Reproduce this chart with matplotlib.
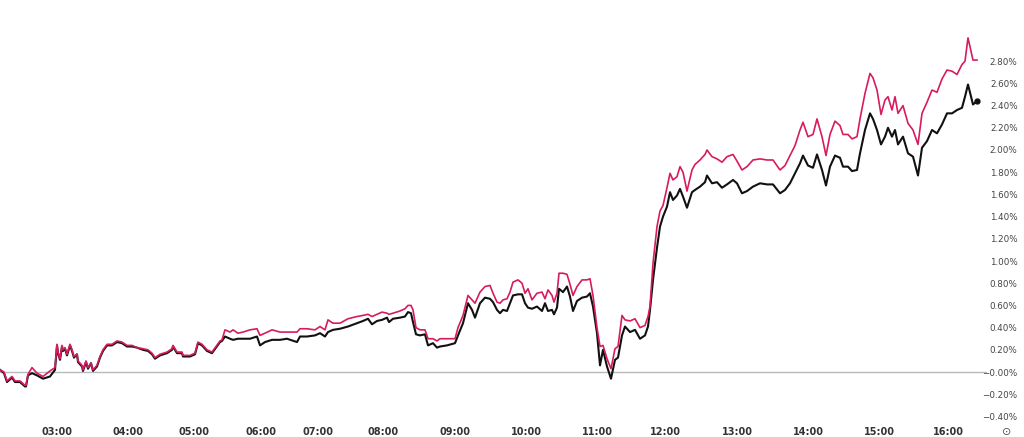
import matplotlib
matplotlib.use("Agg")
import matplotlib.pyplot as plt
import numpy as np

# bar index (one bar per screen step) and % change of the two series
bars = [0, 4, 7, 12, 15, 20, 25, 26, 28, 32, 37, 43, 50, 55, 57, 58, 60, 62, 63, 65,
        67, 70, 72, 74, 77, 78, 82, 83, 86, 88, 91, 93, 97, 100, 103, 107, 112, 117, 122, 127,
        132, 137, 143, 148, 152, 155, 160, 167, 172, 173, 177, 182, 183, 190, 195, 198, 202, 207, 212, 216,
        220, 222, 225, 230, 233, 238, 243, 250, 257, 260, 265, 272, 280, 287, 297, 300, 307, 315, 320, 325,
        328, 333, 340, 348, 357, 363, 368, 372, 377, 382, 387, 389, 393, 400, 405, 408, 411, 413, 416, 420,
        425, 428, 433, 437, 440, 447, 455, 458, 463, 468, 472, 475, 480, 485, 490, 493, 497, 500, 503, 507,
        510, 513, 518, 522, 525, 528, 532, 537, 542, 545, 548, 552, 554, 557, 559, 563, 567, 570, 573, 577,
        582, 587, 590, 593, 597, 600, 603, 607, 611, 615, 618, 622, 625, 630, 635, 640, 645, 648, 650, 653,
        657, 660, 663, 667, 670, 673, 677, 680, 683, 687, 692, 695, 700, 705, 707, 712, 717, 722, 727, 733,
        737, 742, 747, 753, 760, 767, 773, 780, 785, 790, 795, 800, 803, 808, 813, 817, 822, 826, 830, 835,
        840, 843, 848, 852, 857, 860, 865, 870, 873, 877, 881, 885, 888, 892, 895, 898, 903, 908, 913, 918,
        922, 927, 932, 937, 942, 947, 952, 957, 962, 965, 968, 973, 977]

black = [0.02, -0.01, -0.09, -0.05, -0.09, -0.09, -0.13, -0.13, -0.03, -0.01, -0.03, -0.06, -0.04, 0.02, 0.24, 0.17, 0.11, 0.23, 0.19, 0.21,
         0.15, 0.24, 0.19, 0.13, 0.16, 0.09, 0.05, 0.01, 0.09, 0.03, 0.08, 0.01, 0.05, 0.13, 0.19, 0.24, 0.24, 0.27, 0.26, 0.23,
         0.23, 0.22, 0.20, 0.19, 0.16, 0.12, 0.15, 0.17, 0.20, 0.23, 0.17, 0.17, 0.14, 0.14, 0.16, 0.26, 0.24, 0.19, 0.17, 0.22,
         0.27, 0.28, 0.32, 0.30, 0.29, 0.30, 0.30, 0.30, 0.32, 0.24, 0.27, 0.29, 0.29, 0.30, 0.27, 0.32, 0.32, 0.33, 0.35, 0.32,
         0.36, 0.38, 0.39, 0.41, 0.44, 0.46, 0.48, 0.43, 0.46, 0.47, 0.49, 0.45, 0.48, 0.49, 0.50, 0.54, 0.53, 0.45, 0.34, 0.33,
         0.34, 0.24, 0.26, 0.22, 0.23, 0.24, 0.26, 0.33, 0.44, 0.62, 0.56, 0.49, 0.62, 0.67, 0.66, 0.63, 0.56, 0.53, 0.56, 0.55,
         0.62, 0.69, 0.70, 0.70, 0.62, 0.58, 0.57, 0.59, 0.55, 0.62, 0.55, 0.56, 0.52, 0.58, 0.75, 0.72, 0.77, 0.68, 0.55, 0.64,
         0.67, 0.68, 0.71, 0.59, 0.35, 0.06, 0.20, 0.05, -0.06, 0.11, 0.13, 0.33, 0.41, 0.36, 0.38, 0.30, 0.33, 0.41, 0.56, 0.83,
         1.12, 1.31, 1.40, 1.49, 1.62, 1.55, 1.59, 1.65, 1.58, 1.48, 1.62, 1.64, 1.67, 1.71, 1.77, 1.70, 1.71, 1.66, 1.69, 1.73,
         1.70, 1.61, 1.63, 1.67, 1.70, 1.69, 1.69, 1.61, 1.64, 1.70, 1.79, 1.88, 1.95, 1.86, 1.84, 1.96, 1.82, 1.68, 1.85, 1.95,
         1.93, 1.85, 1.85, 1.81, 1.82, 1.97, 2.18, 2.33, 2.28, 2.18, 2.05, 2.12, 2.20, 2.12, 2.18, 2.05, 2.12, 1.97, 1.94, 1.77,
         2.02, 2.08, 2.18, 2.15, 2.23, 2.33, 2.33, 2.36, 2.38, 2.48, 2.59, 2.41, 2.44]

pink = [0.02, 0.00, -0.08, -0.04, -0.08, -0.08, -0.12, -0.12, -0.02, 0.04, -0.01, -0.04, 0.01, 0.04, 0.25, 0.18, 0.12, 0.24, 0.20, 0.22,
        0.16, 0.25, 0.20, 0.14, 0.16, 0.10, 0.06, 0.02, 0.10, 0.04, 0.08, 0.02, 0.06, 0.14, 0.20, 0.25, 0.25, 0.28, 0.27, 0.24,
        0.24, 0.22, 0.21, 0.20, 0.17, 0.13, 0.16, 0.18, 0.21, 0.24, 0.18, 0.18, 0.15, 0.15, 0.17, 0.27, 0.25, 0.20, 0.18, 0.23,
        0.28, 0.29, 0.38, 0.36, 0.38, 0.35, 0.36, 0.38, 0.39, 0.33, 0.35, 0.38, 0.36, 0.36, 0.36, 0.39, 0.39, 0.38, 0.41, 0.38,
        0.47, 0.44, 0.44, 0.48, 0.50, 0.51, 0.52, 0.50, 0.52, 0.54, 0.53, 0.52, 0.53, 0.55, 0.57, 0.60, 0.60, 0.56, 0.40, 0.38,
        0.38, 0.30, 0.30, 0.28, 0.30, 0.30, 0.30, 0.40, 0.51, 0.69, 0.65, 0.62, 0.72, 0.77, 0.78, 0.71, 0.63, 0.62, 0.65, 0.66,
        0.72, 0.81, 0.83, 0.80, 0.71, 0.75, 0.65, 0.71, 0.72, 0.66, 0.74, 0.69, 0.63, 0.71, 0.89, 0.89, 0.88, 0.79, 0.69, 0.77,
        0.83, 0.83, 0.84, 0.69, 0.40, 0.23, 0.24, 0.12, 0.03, 0.21, 0.23, 0.51, 0.47, 0.46, 0.48, 0.40, 0.42, 0.50, 0.59, 0.98,
        1.31, 1.45, 1.50, 1.66, 1.79, 1.73, 1.76, 1.85, 1.80, 1.63, 1.82, 1.87, 1.91, 1.96, 2.00, 1.94, 1.92, 1.89, 1.94, 1.96,
        1.90, 1.82, 1.85, 1.91, 1.92, 1.91, 1.91, 1.82, 1.86, 1.95, 2.04, 2.18, 2.25, 2.12, 2.14, 2.28, 2.12, 1.95, 2.14, 2.26,
        2.22, 2.14, 2.14, 2.10, 2.12, 2.28, 2.51, 2.69, 2.65, 2.54, 2.32, 2.45, 2.48, 2.36, 2.48, 2.33, 2.40, 2.24, 2.18, 2.05,
        2.33, 2.43, 2.54, 2.52, 2.64, 2.72, 2.71, 2.68, 2.77, 2.80, 3.01, 2.81, 2.81]

hour_labels = ["03:00", "04:00", "05:00", "06:00", "07:00", "08:00", "09:00",
               "10:00", "11:00", "12:00", "13:00", "14:00", "15:00", "16:00"]
hour_bars = [57, 128, 194, 261, 318, 383, 455, 526, 597, 665, 737, 808, 879, 948]
pct_ticks = np.arange(-0.4, 2.81, 0.2)

fig = plt.figure(figsize=(10.24, 4.37), dpi=100)
ax = fig.add_axes([0.0, 13 / 437, 987 / 1024, 424 / 437])

ax.axhline(0, color="#b8b8bd", lw=1.0, zorder=1)
ax.plot(bars, pink, color="#d81b60", lw=1.2, zorder=3)
ax.plot(bars, black, color="#111111", lw=1.5, zorder=2)
ax.plot(bars[-1], black[-1], "o", color="#111111", ms=3.5, zorder=4)

ax.set_xlim(0, 987)
ax.set_ylim(-0.468, 3.351)

for s in ax.spines.values():
    s.set_visible(False)

# right-aligned price scale, like the reference
ax.yaxis.tick_right()
ax.set_yticks(pct_ticks)
ax.set_yticklabels(["\u22120.00%" if abs(v) < 1e-9 else ("%.2f%%" % v).replace("-", "\u2212")
                    for v in pct_ticks])
ax.tick_params(axis="y", length=0, pad=22, labelsize=6.3, labelcolor="#444444")
for t in ax.get_yticklabels():
    t.set_horizontalalignment("right")

ax.set_xticks(hour_bars)
ax.set_xticklabels(hour_labels, fontweight="bold")
ax.tick_params(axis="x", length=0, pad=2, labelsize=7, labelcolor="#333333")

fig.text(1007 / 1024, 1 - 432 / 437, "\u2299", ha="center", va="center",
         fontsize=8, color="#555555")

fig.savefig("out.png", dpi=100, facecolor="white")
